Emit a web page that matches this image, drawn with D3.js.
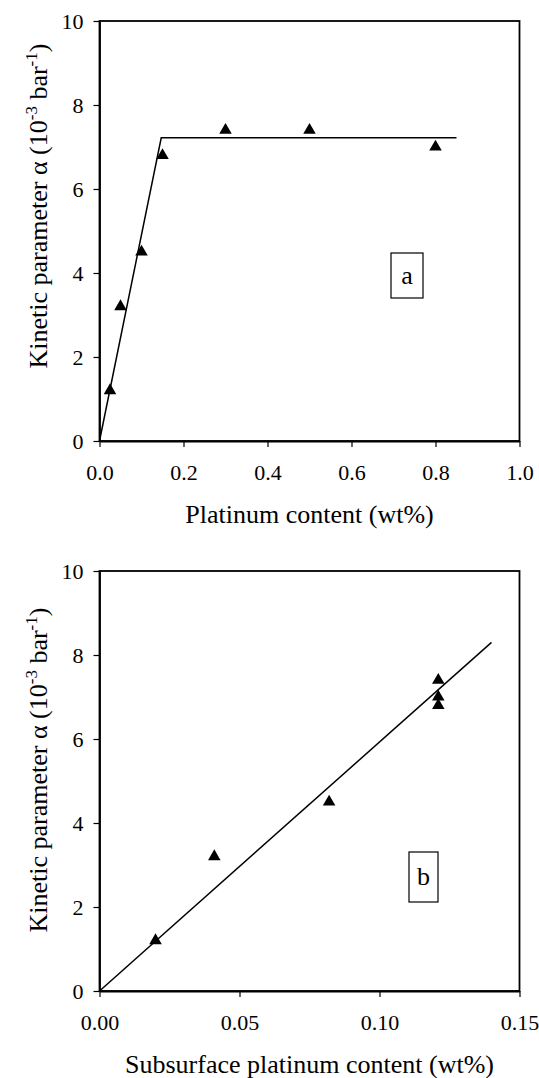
<!DOCTYPE html>
<html>
<head>
<meta charset="utf-8">
<script src="https://d3js.org/d3.v7.min.js"></script>
<style>
  body { margin: 0; background: #fff; }
  svg text { font-family: "Liberation Serif", "Times New Roman", serif; fill: #000; }
</style>
</head>
<body>
<div id="viz"></div>
<script>
// panel a: alpha vs platinum content
var ptA = [0.025, 0.05, 0.1, 0.15, 0.3, 0.5, 0.8];
var alphaA = [1.2, 3.2, 4.5, 6.8, 7.4, 7.4, 7.0];
var fitAx = [0, 0.147, 0.85];
var fitAy = [0, 7.22, 7.22];
var ticksAx = [0, 0.2, 0.4, 0.6, 0.8, 1.0];

// panel b: alpha vs subsurface platinum content
var ptB = [0.02, 0.041, 0.082, 0.121, 0.121, 0.121];
var alphaB = [1.2, 3.2, 4.5, 7.4, 7.0, 6.8];
var fitBx = [0, 0.14];
var fitBy = [0, 8.3];
var ticksBx = [0, 0.05, 0.10, 0.15];

var ticksY = [0, 2, 4, 6, 8, 10];

var svg = d3.select("#viz").append("svg")
  .attr("width", 539).attr("height", 1078);

function panel(opt) {
  var left = 99.5, right = 519.5;
  var top = opt.top, bottom = opt.top + 420;

  var x = d3.scaleLinear().domain(opt.xdomain).range([left, right]);
  var y = d3.scaleLinear().domain([0, 10]).range([bottom, top]);

  var g = svg.append("g");

  // frame
  g.append("rect")
    .attr("x", left).attr("y", top)
    .attr("width", right - left).attr("height", bottom - top)
    .attr("fill", "none").attr("stroke", "#000").attr("stroke-width", 1.8);

  var xAxis = d3.axisBottom(x).tickValues(opt.xticks).tickFormat(d3.format(opt.fmt))
    .tickSizeInner(6).tickSizeOuter(0).tickPadding(17);
  var gx = g.append("g").attr("transform", "translate(0," + bottom + ")").call(xAxis);

  var yAxis = d3.axisLeft(y).tickValues(ticksY).tickFormat(d3.format("d"))
    .tickSizeInner(6).tickSizeOuter(0).tickPadding(10);
  var gy = g.append("g").attr("transform", "translate(" + left + ",0)").call(yAxis);

  [gx, gy].forEach(function (a) {
    a.attr("font-family", "Liberation Serif, serif").attr("font-size", 22);
    a.select(".domain").attr("stroke-width", 1.8);
    a.selectAll(".tick line").attr("stroke-width", 1.2);
  });

  // fit line
  var pts = opt.fx.map(function (d, i) { return [d, opt.fy[i]]; });
  g.append("path")
    .attr("d", d3.line().x(function (d) { return x(d[0]); }).y(function (d) { return y(d[1]); })(pts))
    .attr("fill", "none").attr("stroke", "#000").attr("stroke-width", 1.5);

  // markers
  var tri = d3.symbol().type(d3.symbolTriangle).size(68);
  g.selectAll(".pt").data(opt.px).enter().append("path")
    .attr("transform", function (d, i) { return "translate(" + x(d) + "," + y(opt.py[i]) + ")"; })
    .attr("d", tri).attr("fill", "#000");

  // x title
  g.append("text")
    .attr("x", (left + right) / 2).attr("y", bottom + 82)
    .attr("text-anchor", "middle").style("font-size", "26px")
    .text(opt.xtitle);

  // y title
  var yt = g.append("text")
    .attr("transform", "translate(47," + ((top + bottom) / 2 - opt.yshift) + ") rotate(-90)")
    .attr("text-anchor", "middle").style("font-size", "26px");
  yt.append("tspan").text("Kinetic parameter \u03b1 (10");
  yt.append("tspan").attr("dy", -10).style("font-size", "17px").text("-3");
  yt.append("tspan").attr("dy", 10).text(" bar");
  yt.append("tspan").attr("dy", -10).style("font-size", "17px").text("-1");
  yt.append("tspan").attr("dy", 10).text(")");

  // panel letter box
  var b = opt.box;
  g.append("rect")
    .attr("x", b[0]).attr("y", b[1]).attr("width", b[2]).attr("height", b[3])
    .attr("fill", "#fff").attr("stroke", "#000").attr("stroke-width", 1.2);
  g.append("text")
    .attr("x", b[0] + b[2] / 2).attr("y", b[1] + b[3] / 2 + 8)
    .attr("text-anchor", "middle").style("font-size", "26px")
    .text(opt.letter);
}

panel({
  top: 21, xdomain: [0, 1], xticks: ticksAx, fmt: ".1f",
  fx: fitAx, fy: fitAy, px: ptA, py: alphaA,
  xtitle: "Platinum content (wt%)", yshift: 25,
  box: [391, 253, 32, 45], letter: "a"
});

panel({
  top: 571, xdomain: [0, 0.15], xticks: ticksBx, fmt: ".2f",
  fx: fitBx, fy: fitBy, px: ptB, py: alphaB,
  xtitle: "Subsurface platinum content (wt%)", yshift: 11,
  box: [409, 852, 29, 50], letter: "b"
});
</script>
</body>
</html>
